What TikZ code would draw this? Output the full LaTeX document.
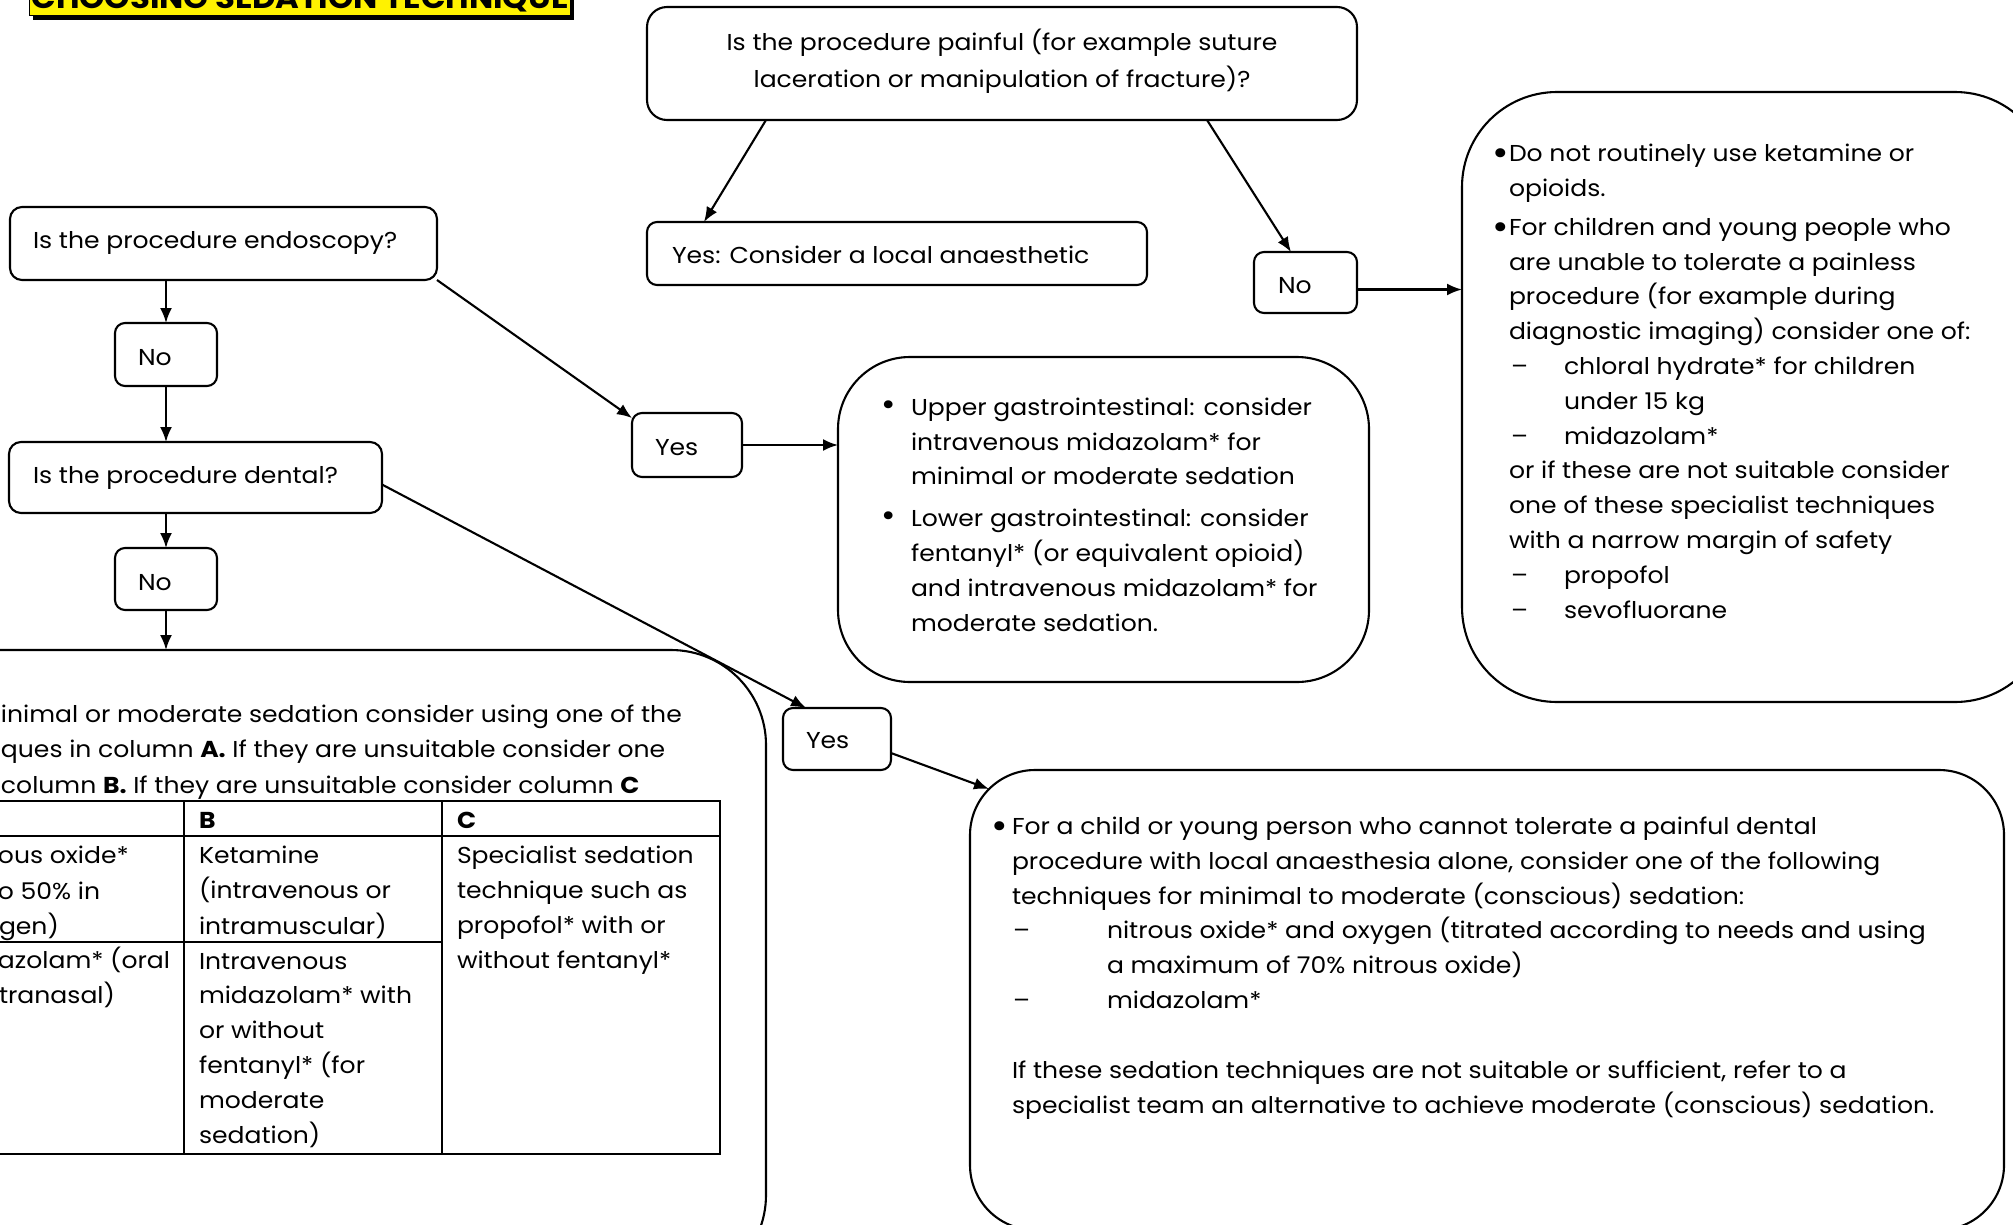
\documentclass[tikz,border=0pt]{standalone}
\usepackage{fontspec}
\usepackage{graphicx}
\setmainfont[FakeStretch=1.09]{Poppins}
\usetikzlibrary{arrows.meta,calc}
\newcommand{\bigbul}{\raisebox{-4pt}{\scalebox{1.6}{•}}}
\tikzset{
  box/.style={draw, line width=2.1pt, rounded corners=#1, anchor=north west, inner sep=0pt, outer sep=0pt},
  box/.default=10pt,
  txt/.style={inner sep=0pt, outer sep=0pt, align=left, font=\fontsize{23}{34.8}\selectfont},
  arr/.style={line width=2.1pt, -{Latex[length=15pt,width=12pt]}},
  rulel/.style={line width=2.1pt}
}
\begin{document}
\begin{tikzpicture}[x=1pt,y=-1pt]
\path[use as bounding box] (0,0) rectangle (2013,1224);
\fill[white] (0,0) rectangle (2013,1224);
\clip (0,0) rectangle (2013,1224);

% title
\fill[black] (33,-40) rectangle (574,19.5);
\filldraw[fill=yellow, draw=black, line width=1pt] (29,-40) rectangle (570,15.5);
\node[inner sep=0pt, anchor=base] (title) at (300,8) {\resizebox{537pt}{!}{\bfseries CHOOSING SEDATION TECHNIQUE}};

% top question
\node[box=20pt, minimum width=710pt, minimum height=113pt] (pain) at (647,7) {};
\node[txt, align=center, anchor=base, font=\fontsize{23}{37}\selectfont] (paint) at (1002,87) {Is the procedure painful (for example suture\\laceration or manipulation of fracture)?};
\node[box, minimum width=500pt, minimum height=63pt] (local) at (647,222) {};
\node[txt, anchor=base west] (localt) at (672,263) {Yes: Consider a local anaesthetic};
\node[box, minimum width=103pt, minimum height=61pt] (nor) at (1254,252) {};
\node[txt, anchor=base west] (nort) at (1278,293) {No};

% right box
\node[box=95pt, minimum width=588pt, minimum height=610pt] (rbox) at (1462,92) {};
\node[txt, anchor=base west] (rboxt) at (1492,618) {%
\makebox[17pt][l]{\bigbul}Do not routinely use ketamine or\\
\hspace*{17pt}opioids.\\[4pt]
\makebox[17pt][l]{\bigbul}For children and young people who\\
\hspace*{17pt}are unable to tolerate a painless\\
\hspace*{17pt}procedure (for example during\\
\hspace*{17pt}diagnostic imaging) consider one of:\\
\hspace*{19pt}\makebox[53pt][l]{–}chloral hydrate* for children\\
\hspace*{72pt}under 15 kg\\
\hspace*{19pt}\makebox[53pt][l]{–}midazolam*\\
\hspace*{17pt}or if these are not suitable consider\\
\hspace*{17pt}one of these specialist techniques\\
\hspace*{17pt}with a narrow margin of safety\\
\hspace*{19pt}\makebox[53pt][l]{–}propofol\\
\hspace*{19pt}\makebox[53pt][l]{–}sevofluorane};

% left column
\node[box=12pt, minimum width=427pt, minimum height=73pt] (endo) at (10,207) {};
\node[txt, anchor=base west] (endot) at (33,248) {Is the procedure endoscopy?};
\node[box, minimum width=102pt, minimum height=63pt] (no1) at (115,323) {};
\node[txt, anchor=base west] (no1t) at (138,365) {No};
\node[box=12pt, minimum width=373pt, minimum height=71pt] (dental) at (9,442) {};
\node[txt, anchor=base west] (dentalt) at (33,483) {Is the procedure dental?};
\node[box, minimum width=102pt, minimum height=62pt] (no2) at (115,548) {};
\node[txt, anchor=base west] (no2t) at (138,590) {No};

% endoscopy yes
\node[box, minimum width=110pt, minimum height=64pt] (yes1) at (632,413) {};
\node[txt, anchor=base west] (yes1t) at (655,455) {Yes};
\node[box=72pt, minimum width=531pt, minimum height=325pt] (gi) at (838,357) {};
\node[txt, anchor=base west] (git) at (881,631) {%
\makebox[30pt][l]{\scalebox{1.4}{•}}Upper gastrointestinal: consider\\
\hspace*{30pt}intravenous midazolam* for\\
\hspace*{30pt}minimal or moderate sedation\\[7pt]
\makebox[30pt][l]{\scalebox{1.4}{•}}Lower gastrointestinal: consider\\
\hspace*{30pt}fentanyl* (or equivalent opioid)\\
\hspace*{30pt}and intravenous midazolam* for\\
\hspace*{30pt}moderate sedation.};

% dental yes
\node[box, minimum width=108pt, minimum height=62pt] (yes2) at (783,708) {};
\node[txt, anchor=base west] (yes2t) at (806,748) {Yes};
\node[box=65pt, minimum width=1034pt, minimum height=460pt] (bbox) at (970,770) {};
\node[txt, anchor=base west] (bboxt) at (991,1113) {%
\makebox[21pt][l]{\bigbul}For a child or young person who cannot tolerate a painful dental\\
\hspace*{21pt}procedure with local anaesthesia alone, consider one of the following\\
\hspace*{21pt}techniques for minimal to moderate (conscious) sedation:\\
\hspace*{22pt}\makebox[94pt][l]{–}nitrous oxide* and oxygen (titrated according to needs and using\\
\hspace*{116pt}a maximum of 70\% nitrous oxide)\\
\hspace*{22pt}\makebox[94pt][l]{–}midazolam*\\[35pt]
\hspace*{21pt}If these sedation techniques are not suitable or sufficient, refer to a\\
\hspace*{21pt}specialist team an alternative to achieve moderate (conscious) sedation.};

% big left box with table
\node[box=95pt, minimum width=966pt, minimum height=640pt] (lbox) at (-200,650) {};
\node[txt, anchor=base west, font=\fontsize{23}{35.5}\selectfont] (lboxt) at (1,793) {inimal or moderate sedation consider using one of the\\ques in column \textbf{A.} If they are unsuitable consider one\\column \textbf{B.} If they are unsuitable consider column \textbf{C}};
\draw[rulel] (-5,801) -- (720,801) -- (720,1154) -- (-5,1154);
\draw[rulel] (-5,836) -- (720,836);
\draw[rulel] (-5,942) -- (442,942);
\draw[rulel] (184,801) -- (184,1154);
\draw[rulel] (442,801) -- (442,1154);
\node[txt, anchor=base west] (hb) at (199,828) {\textbf{B}};
\node[txt, anchor=base west] (hc) at (457,828) {\textbf{C}};
\node[txt, anchor=base west] (ca1) at (-2,863) {ous oxide*};
\node[txt, anchor=base west] (ca2) at (-2,899) {o 50\% in};
\node[txt, anchor=base west] (ca3) at (-1,934) {gen)};
\node[txt, anchor=base west] (ca4) at (-2,968) {azolam* (oral};
\node[txt, anchor=base west] (ca5) at (-1,1003) {tranasal)};
\node[txt, anchor=base west, font=\fontsize{23}{35.5}\selectfont] (cb1) at (199,934) {Ketamine\\(intravenous or\\intramuscular)};
\node[txt, anchor=base west] (cb2) at (199,1143) {Intravenous\\midazolam* with\\or without\\fentanyl* (for\\moderate\\sedation)};
\node[txt, anchor=base west] (cc1) at (457,968) {Specialist sedation\\technique such as\\propofol* with or\\without fentanyl*};

% connectors
\draw[arr] ($(pain.south west)+(119,0)$) -- ($(local.north west)+(57,0)$);
\draw[arr] ($(pain.south west)+(560,0)$) -- ($(nor.north west)+(37,0)$);
\draw[arr] ($(nor.east)+(0,7)$) -- ($(rbox.west |- nor.east)+(0,7)$);
\draw[arr] (no1.north |- endo.south) -- (no1.north);
\draw[arr] (no1.south) -- (no1.south |- dental.north);
\draw[arr] (no2.north |- dental.south) -- (no2.north);
\draw[arr] (no2.south) -- (no2.south |- lbox.north);
\draw[arr] (endo.south east) -- ($(yes1.north west)+(0,5)$);
\draw[arr] (yes1.east) -- (yes1.east -| gi.west);
\draw[arr] ($(dental.east)+(0,7)$) -- ($(yes2.north west)+(23,0)$);
\draw[arr] ($(yes2.east)+(0,14)$) -- ($(bbox.north west)+(19,19)$);
\end{tikzpicture}
\end{document}
